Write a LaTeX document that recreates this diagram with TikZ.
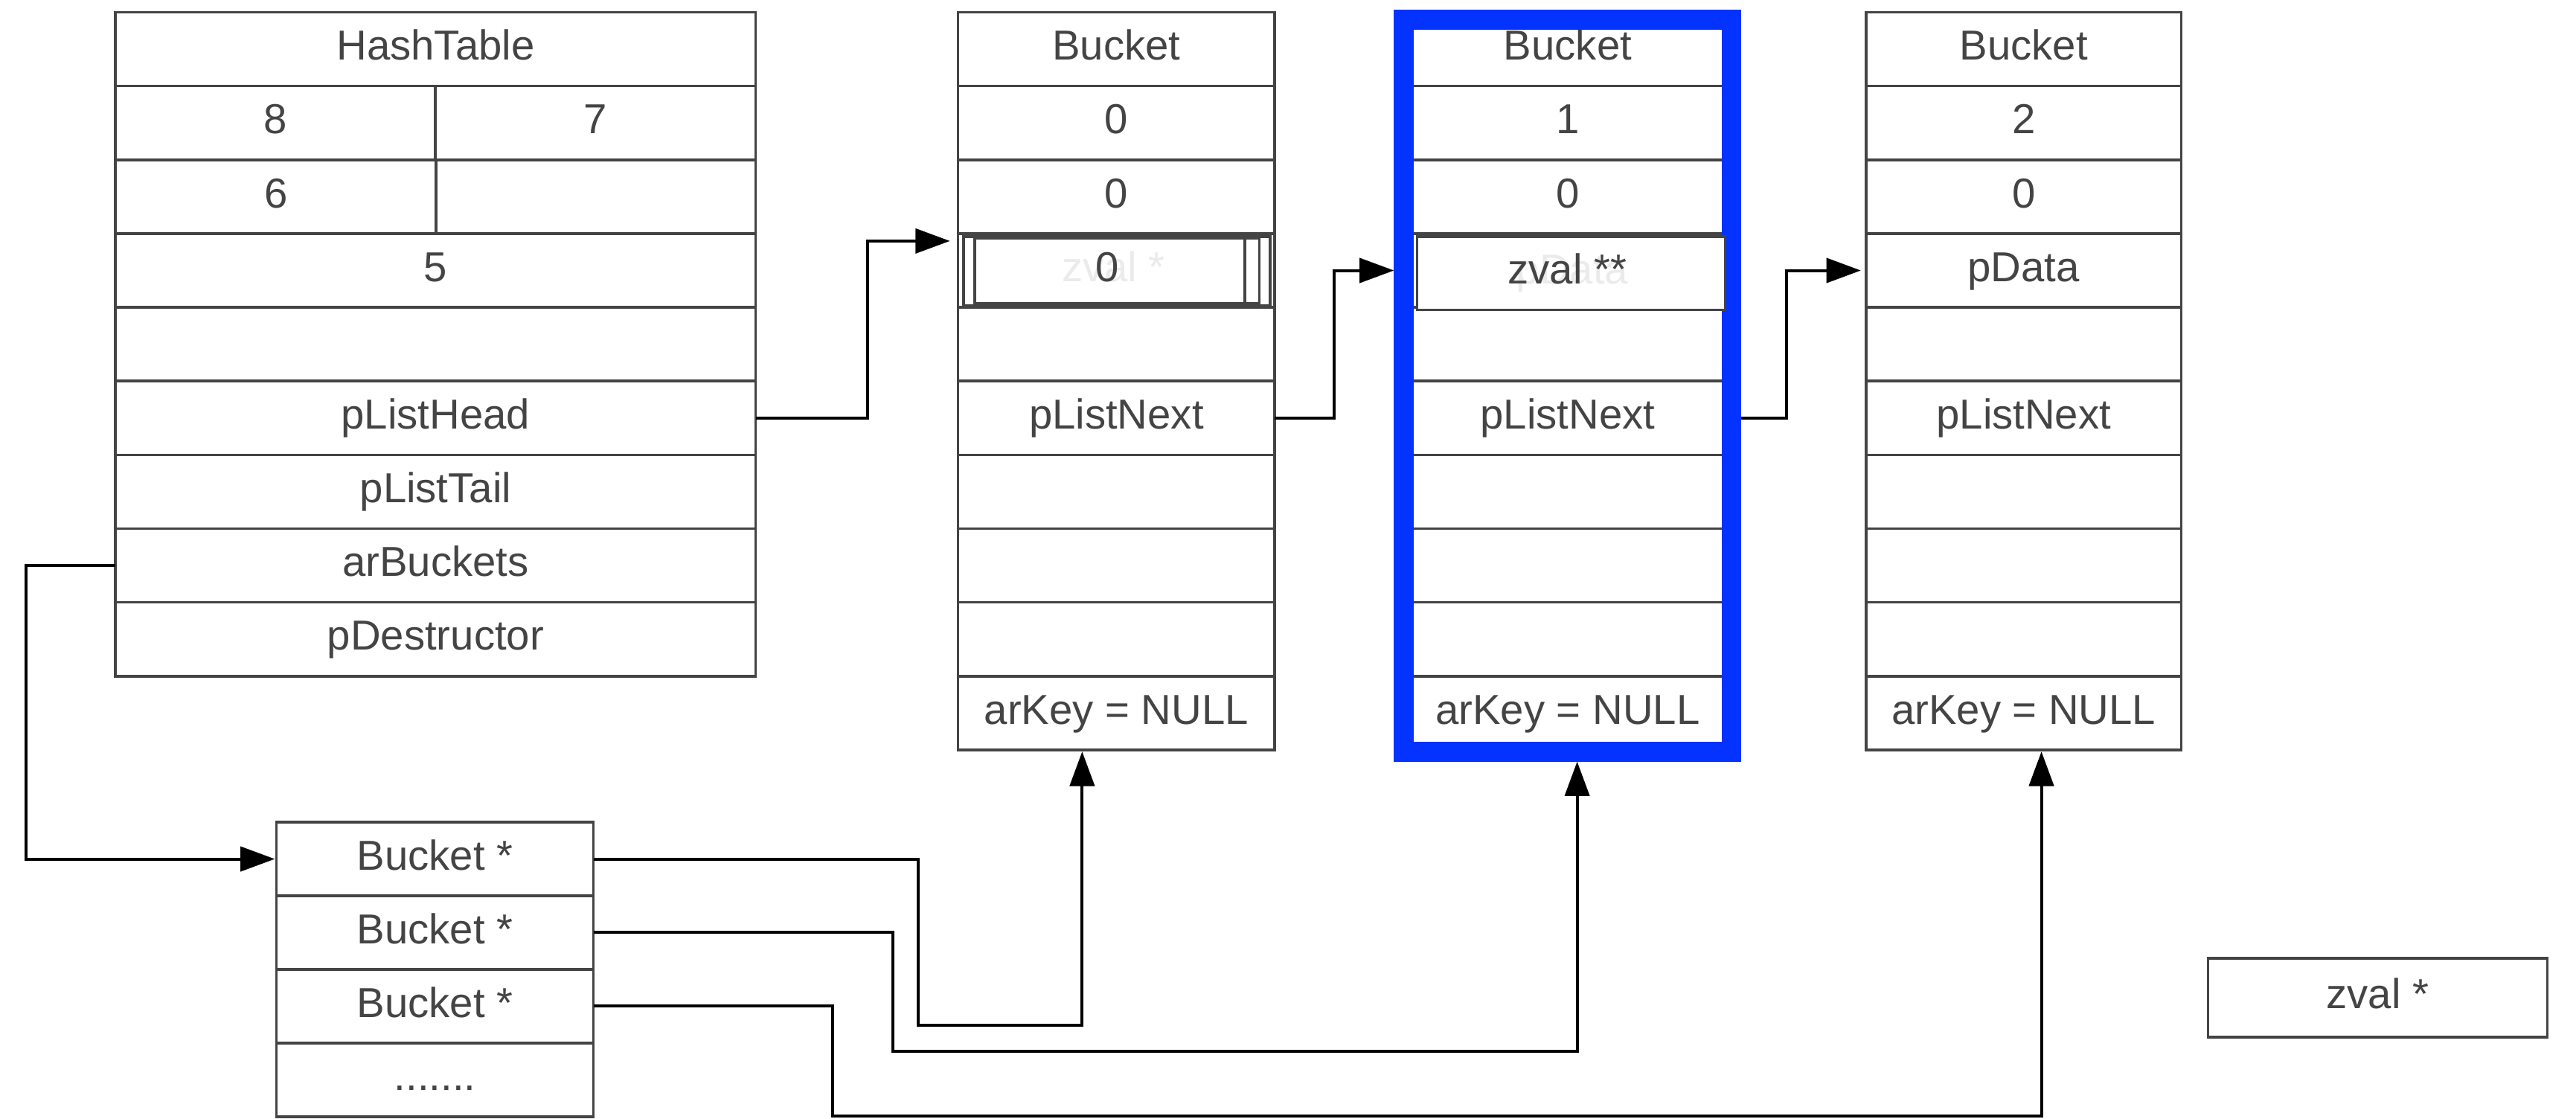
\documentclass[tikz,border=0pt]{standalone}
\usepackage{fontspec}
\setmainfont{Liberation Sans}
\usetikzlibrary{arrows.meta,calc}
\definecolor{linec}{HTML}{444444}
\definecolor{txtc}{HTML}{444444}
\definecolor{bluec}{HTML}{0433FF}
\definecolor{faint}{HTML}{EBEBEB}
\begin{document}
\begin{tikzpicture}[x=1pt,y=-1pt,
  cell/.style={draw=linec, line width=1.6pt, fill=white, inner sep=0pt, outer sep=0pt,
    minimum height=44.9pt, text=txtc, font=\fontsize{25.5}{30}\selectfont,
    text height=18.4pt, text depth=5.1pt},
  htcell/.style={cell, minimum width=389.7pt},
  halfcell/.style={cell, minimum width=195pt},
  bkone/.style={cell, minimum width=192.7pt},
  bktwo/.style={cell, minimum width=196pt},
  bkthree/.style={cell, minimum width=192pt},
  arcell/.style={cell, minimum width=193pt, minimum height=44.8pt},
  lbl/.style={inner sep=0pt, outer sep=0pt, font=\fontsize{25.5}{30}\selectfont,
    text height=18.4pt, text depth=5.1pt},
  extra/.style={draw=linec, line width=1.6pt},
  conn/.style={draw=black, line width=1.8pt, -{Triangle[length=21pt,width=15pt]}},
]
\useasboundingbox[fill=white] (0,0) rectangle (1568,681);

% ---------------- HashTable ----------------
\node[htcell] (ht1) at (265.15,29.95) {HashTable};
\node[halfcell, minimum width=194.7pt] (ht2a) at (167.65,74.85) {8};
\node[halfcell] (ht2b) at (362.5,74.85) {7};
\node[halfcell, minimum width=195.2pt] (ht3a) at (167.9,119.75) {6};
\node[halfcell, minimum width=194.5pt] (ht3b) at (362.75,119.75) {};
\node[htcell] (ht4) at (265.15,164.65) {5};
\node[htcell] (ht5) at (265.15,209.55) {};
\node[htcell] (ht6) at (265.15,254.45) {pListHead};
\node[htcell] (ht7) at (265.15,299.35) {pListTail};
\node[htcell] (ht8) at (265.15,344.25) {arBuckets};
\node[htcell] (ht9) at (265.15,389.15) {pDestructor};

% ---------------- Bucket 1 ----------------
\node[bkone] (b1r1) at (679.55,29.95) {Bucket};
\node[bkone] (b1r2) at (679.55,74.85) {0};
\node[bkone] (b1r3) at (679.55,119.75) {0};
\node[bkone] (b1r4) at (679.55,164.65) {};
\node[bkone] (b1r5) at (679.55,209.55) {};
\node[bkone] (b1r6) at (679.55,254.45) {pListNext};
\node[bkone] (b1r7) at (679.55,299.35) {};
\node[bkone] (b1r8) at (679.55,344.25) {};
\node[bkone] (b1r9) at (679.55,389.15) {};
\node[bkone] (b1r10) at (679.55,434.05) {arKey = NULL};
\draw[extra] (586.5,144) rectangle (773,186);
\draw[extra, fill=white] (593.3,145.2) rectangle (766.6,184.6);
\draw[extra] (757.8,146) -- (757.8,184);
\node[lbl, text=faint] (b1f) at (677.8,164.65) {zval *};
\node[lbl, text=txtc] (b1d) at (674,164.65) {0};

% ---------------- Bucket 2 ----------------
\node[bktwo] (b2r1) at (954.25,29.95) {Bucket};
\node[bktwo] (b2r2) at (954.25,74.85) {1};
\node[bktwo] (b2r3) at (954.25,119.75) {0};
\node[bktwo] (b2r4) at (954.25,164.65) {};
\node[bktwo] (b2r5) at (954.25,209.55) {};
\node[bktwo] (b2r6) at (954.25,254.45) {pListNext};
\node[bktwo] (b2r7) at (954.25,299.35) {};
\node[bktwo] (b2r8) at (954.25,344.25) {};
\node[bktwo] (b2r9) at (954.25,389.15) {};
\node[bktwo] (b2r10) at (954.25,434.05) {arKey = NULL};
\node[draw=bluec, line width=12pt, minimum width=199.5pt, minimum height=445.6pt,
  inner sep=0pt, outer sep=0pt] (frame) at (954.25,234.8) {};
\draw[extra, fill=white] (862.5,144) rectangle (1050,188.7);
\node[lbl, text=faint] (b2f) at (957,166.35) {pData};
\node[lbl, text=txtc] (b2d) at (954,166.35) {zval **};

% ---------------- Bucket 3 ----------------
\node[bkthree] (b3r1) at (1231.8,29.95) {Bucket};
\node[bkthree] (b3r2) at (1231.8,74.85) {2};
\node[bkthree] (b3r3) at (1231.8,119.75) {0};
\node[bkthree] (b3r4) at (1231.8,164.65) {pData};
\node[bkthree] (b3r5) at (1231.8,209.55) {};
\node[bkthree] (b3r6) at (1231.8,254.45) {pListNext};
\node[bkthree] (b3r7) at (1231.8,299.35) {};
\node[bkthree] (b3r8) at (1231.8,344.25) {};
\node[bkthree] (b3r9) at (1231.8,389.15) {};
\node[bkthree] (b3r10) at (1231.8,434.05) {arKey = NULL};

% ---------------- Bucket * array ----------------
\node[arcell] (arr1) at (264.8,522.9) {Bucket *};
\node[arcell] (arr2) at (264.8,567.7) {Bucket *};
\node[arcell] (arr3) at (264.8,612.5) {Bucket *};
\node[arcell] (arr4) at (264.8,657.3) {.......};

% ---------------- zval * ----------------
\node[cell, minimum width=206.5pt, minimum height=48pt] (zv) at (1447.25,607.3) {zval *};

% ---------------- connectors ----------------
\coordinate (v1) at (658.7,624.3);
\coordinate (v2) at (960,639.8);
\coordinate (v3) at (1242.6,679.5);

\draw[conn, shorten >=5pt] (ht6.east) -- ++(68,0) |- ([yshift=17.95pt]b1r4.west);
\draw[conn, shorten >=6pt] (b1r6.east) -- ++(36.1,0) |- (b2r4.west -| frame.west);
\draw[conn, shorten >=3.1pt] ([xshift=6pt]b2r6.east -| frame.east) -- ++(27.5,0) |- (b3r4.west);
\draw[conn, shorten >=1pt] (ht8.west) -- ++(-54.5,0) |- (arr1.west);
\draw[conn, shorten >=1pt] (arr1.east) -- ++(197.5,0) |- (v1) -- (v1 |- b1r10.south);
\draw[conn, shorten >=6pt] (arr2.east) -- ++(182.1,0) |- (v2) -- (v2 |- frame.south);
\draw[conn, shorten >=1pt] (arr3.east) -- ++(145.7,0) |- (v3) -- (v3 |- b3r10.south);
\end{tikzpicture}
\end{document}
